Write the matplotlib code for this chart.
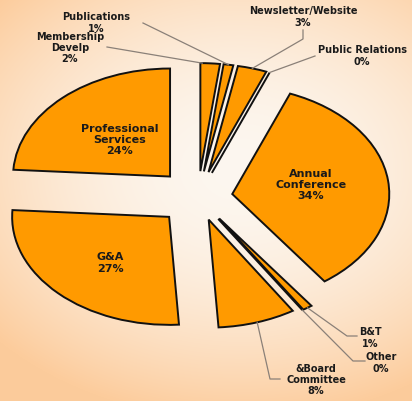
import numpy as np
import matplotlib
matplotlib.use("Agg")
import matplotlib.pyplot as plt

# ---- data (clockwise from 12 o'clock) ----
categories = ["Membership\nDevelp", "Publications", "Newsletter/Website", "Public Relations",
              "Annual\nConference", "B&T", "Other", "&Board\nCommittee", "G&A",
              "Professional\nServices"]
values = [2, 1, 3, 0, 34, 1, 0, 8, 27, 24]
explode = [0.24, 0.24, 0.24, 0.24, 0.22, 0.24, 0.24, 0.22, 0.26, 0.26]

W, H = 412, 402
CX, CY, RX, RY = 198.0, 198.0, 157.0, 108.0   # pie centre / radii in pixels


def px(x, y):
    """pixel position -> data coordinates"""
    return (x - CX) / RX, (CY - y) / RY


fig = plt.figure(figsize=(W / 100, H / 100), dpi=100)
ax = fig.add_axes([0, 0, 1, 1])

xlim = (-CX / RX, (W - CX) / RX)
ylim = (-(H - CY) / RY, CY / RY)

# background gradient
yy, xx = np.mgrid[0:H, 0:W]
t = np.clip(np.sqrt(((xx - 240) / 330.0) ** 2 + ((yy - 170) / 250.0) ** 2), 0, 1) ** 1.8
light = np.array([253, 247, 240]) / 255.0
peach = np.array([252, 204, 156]) / 255.0
bg = light[None, None, :] * (1 - t[..., None]) + peach[None, None, :] * t[..., None]
ax.imshow(bg, extent=(xlim[0], xlim[1], ylim[0], ylim[1]), aspect="auto", zorder=-5,
          origin="upper")

wedges, _ = ax.pie(values, explode=explode, startangle=90, counterclock=False,
                   colors=["#FF9A00"] * len(values),
                   wedgeprops=dict(edgecolor="#111111", linewidth=1.4))
ax.set_aspect("auto")
ax.set_xlim(*xlim)
ax.set_ylim(*ylim)
ax.axis("off")

txt_kw = dict(ha="center", va="center", fontweight="bold", color="#1a1a1a",
              family="DejaVu Sans", linespacing=1.15)
line_kw = dict(color="#8a8078", lw=0.9, zorder=3)


def outer_point(w, frac=0.5):
    ang = np.deg2rad(w.theta1 + (w.theta2 - w.theta1) * frac)
    return w.center[0] + w.r * np.cos(ang), w.center[1] + w.r * np.sin(ang)


# label layout: index -> (text centre px, leader path px list, size, anchor fraction)
layout = {
    0: ((70, 48), [(107, 48)], 7, 0.9),
    1: ((96, 23), [(143, 24)], 7, 0.5),
    2: ((303, 17), [(303, 31), (303, 40)], 7, 0.5),
    3: ((362, 56), [(315, 57)], 7, 0.5),
    4: ((311, 185), None, 8, 0.5),
    5: ((370, 338), [(357, 337), (347, 337)], 7, 0.5),
    6: ((381, 363), [(365, 362), (353, 362)], 7, 0.5),
    7: ((316, 380), [(280, 380), (270, 380)], 7, 0.5),
    8: ((110, 263), None, 8, 0.5),
    9: ((120, 140), None, 8, 0.5),
}

for i, (name, v) in enumerate(zip(categories, values)):
    (tx, ty), path, size, fr = layout[i]
    ax.text(*px(tx, ty), f"{name}\n{v}%", fontsize=size, zorder=4, **txt_kw)
    if path:
        pts = [px(x, y) for x, y in path] + [outer_point(wedges[i], fr)]
        xs, ys = zip(*pts)
        ax.plot(xs, ys, **line_kw)

fig.savefig("out.png", dpi=100)
